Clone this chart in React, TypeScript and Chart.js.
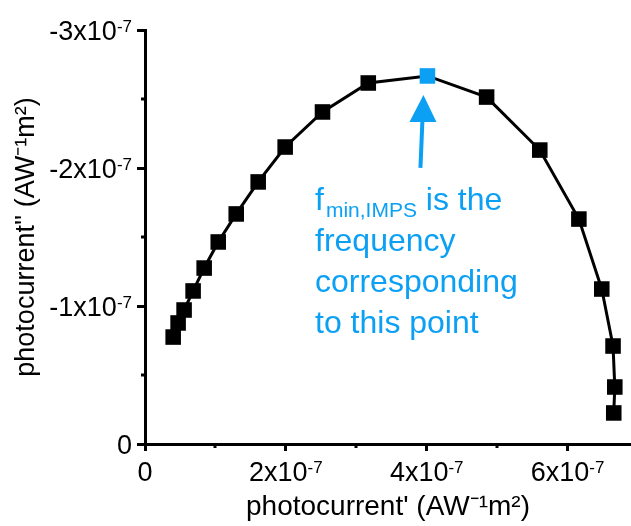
import React, { useEffect, useRef } from 'react';
import { Chart, registerables } from 'chart.js';

Chart.register(...registerables);

// ---- data ----
const X_VALUES = [
  0.40e-7, 0.47e-7, 0.555e-7, 0.683e-7, 0.84e-7, 1.04e-7, 1.295e-7, 1.607e-7, 1.99e-7, 2.52e-7,
  3.17e-7, 4.01e-7, 4.85e-7, 5.605e-7, 6.16e-7, 6.485e-7, 6.645e-7, 6.67e-7, 6.655e-7,
];
const Y_VALUES = [
  -0.775e-7, -0.877e-7, -0.971e-7, -1.109e-7, -1.275e-7, -1.464e-7, -1.667e-7, -1.899e-7, -2.152e-7, -2.406e-7,
  -2.616e-7, -2.667e-7, -2.514e-7, -2.13e-7, -1.63e-7, -1.123e-7, -0.71e-7, -0.413e-7, -0.225e-7,
];
const HIGHLIGHT_INDEX = 11;

const X_MIN = 0;
const X_MAX = 6.9e-7;
const Y_MIN = -3e-7;
const Y_MAX = 0;

const X_TICKS = [0, 2e-7, 4e-7, 6e-7];
const X_TICK_BASE = ['0', '2x10', '4x10', '6x10'];
const X_TICK_EXP = ['', '-7', '-7', '-7'];
const X_MINOR = [1e-7, 3e-7, 5e-7];

const Y_TICKS = [0, -1e-7, -2e-7, -3e-7];
const Y_TICK_BASE = ['0', '-1x10', '-2x10', '-3x10'];
const Y_TICK_EXP = ['', '-7', '-7', '-7'];
const Y_MINOR = [-0.5e-7, -1.5e-7, -2.5e-7];

const X_TITLE = "photocurrent' (AW\u207B\u00B9m\u00B2)";
const Y_TITLE = "photocurrent'' (AW\u207B\u00B9m\u00B2)";

const NOTE_MAIN = 'f';
const NOTE_SUB = 'min,IMPS';
const NOTE_REST = ' is the';
const NOTE_LINES = ['frequency', 'corresponding', 'to this point'];

const BLUE = '#0BA0F4';
const FONT = "'Liberation Sans', Arial, sans-serif";

const overlayPlugin = {
  id: 'overlay',
  afterDraw(chart: any) {
    const ctx = chart.ctx as CanvasRenderingContext2D;
    const xs = chart.scales.x;
    const ys = chart.scales.y;
    const area = chart.chartArea;
    ctx.save();
    ctx.fillStyle = '#000';
    ctx.strokeStyle = '#000';

    // minor ticks
    ctx.lineWidth = 3;
    ctx.beginPath();
    X_MINOR.forEach((v) => {
      const px = Math.round(xs.getPixelForValue(v));
      ctx.moveTo(px, area.bottom);
      ctx.lineTo(px, area.bottom + 4);
    });
    Y_MINOR.forEach((v) => {
      const py = Math.round(ys.getPixelForValue(v));
      ctx.moveTo(area.left, py);
      ctx.lineTo(area.left - 4, py);
    });
    ctx.stroke();

    const mainFont = `27px ${FONT}`;
    const supFont = `17px ${FONT}`;

    // x tick labels
    X_TICKS.forEach((v, i) => {
      const px = xs.getPixelForValue(v);
      ctx.font = mainFont;
      const wMain = ctx.measureText(X_TICK_BASE[i]).width;
      ctx.font = supFont;
      const wSup = X_TICK_EXP[i] ? ctx.measureText(X_TICK_EXP[i]).width : 0;
      const start = px - (wMain + wSup) / 2;
      ctx.textBaseline = 'alphabetic';
      ctx.textAlign = 'left';
      ctx.font = mainFont;
      ctx.fillText(X_TICK_BASE[i], start, area.bottom + 37);
      if (X_TICK_EXP[i]) {
        ctx.font = supFont;
        ctx.fillText(X_TICK_EXP[i], start + wMain, area.bottom + 29);
      }
    });

    // y tick labels
    Y_TICKS.forEach((v, i) => {
      const py = ys.getPixelForValue(v);
      ctx.font = mainFont;
      const wMain = ctx.measureText(Y_TICK_BASE[i]).width;
      ctx.font = supFont;
      const wSup = Y_TICK_EXP[i] ? ctx.measureText(Y_TICK_EXP[i]).width : 0;
      const right = area.left - 13;
      const start = right - wMain - wSup;
      ctx.textBaseline = 'alphabetic';
      ctx.textAlign = 'left';
      ctx.font = mainFont;
      ctx.fillText(Y_TICK_BASE[i], start, py + 10);
      if (Y_TICK_EXP[i]) {
        ctx.font = supFont;
        ctx.fillText(Y_TICK_EXP[i], start + wMain, py + 2);
      }
    });

    // annotation arrow pointing at highlighted point
    const meta = chart.getDatasetMeta(0);
    const pt = meta.data[HIGHLIGHT_INDEX];
    const bx = pt.x;
    const by = pt.y;
    ctx.strokeStyle = BLUE;
    ctx.fillStyle = BLUE;
    ctx.lineWidth = 4;
    ctx.beginPath();
    ctx.moveTo(bx - 7, by + 92);
    ctx.lineTo(bx - 5, by + 44);
    ctx.stroke();
    ctx.beginPath();
    ctx.moveTo(bx - 4, by + 19);
    ctx.lineTo(bx - 18, by + 46);
    ctx.lineTo(bx + 9, by + 46);
    ctx.closePath();
    ctx.fill();

    // annotation text
    const noteFont = `32px ${FONT}`;
    const subFont = `21px ${FONT}`;
    const tx = 315;
    ctx.textAlign = 'left';
    ctx.textBaseline = 'alphabetic';
    ctx.font = noteFont;
    ctx.fillText(NOTE_MAIN, tx, 210);
    let cx = tx + ctx.measureText(NOTE_MAIN).width + 2;
    ctx.font = subFont;
    ctx.fillText(NOTE_SUB, cx, 217);
    cx += ctx.measureText(NOTE_SUB).width;
    ctx.font = noteFont;
    ctx.fillText(NOTE_REST, cx, 210);
    NOTE_LINES.forEach((line, i) => {
      ctx.fillText(line, tx, 251 + i * 41);
    });

    ctx.restore();
  },
};

export default function App() {
  const canvasRef = useRef<HTMLCanvasElement | null>(null);

  useEffect(() => {
    const canvas = canvasRef.current;
    if (!canvas) return;
    Chart.defaults.font.family = FONT;
    const points = X_VALUES.map((x, i) => ({ x, y: Y_VALUES[i] }));
    const colors = X_VALUES.map((_, i) => (i === HIGHLIGHT_INDEX ? BLUE : '#000000'));
    const chart = new Chart(canvas, {
      type: 'scatter',
      data: {
        datasets: [
          {
            data: points,
            showLine: true,
            borderColor: '#000000',
            borderWidth: 3,
            pointStyle: 'rect',
            pointRadius: 11,
            pointBorderWidth: 0,
            pointBackgroundColor: colors,
            pointBorderColor: colors,
          },
        ],
      },
      options: {
        animation: false,
        responsive: false,
        layout: { autoPadding: false, padding: { top: 30, right: 0, left: 0, bottom: 0 } },
        plugins: {
          legend: { display: false },
          tooltip: { enabled: false },
        },
        scales: {
          x: {
            type: 'linear',
            min: X_MIN,
            max: X_MAX,
            afterBuildTicks: (scale: any) => {
              scale.ticks = X_TICKS.map((v) => ({ value: v }));
            },
            afterFit: (scale: any) => {
              scale.height = 82;
            },
            ticks: { display: false },
            grid: {
              display: true,
              drawOnChartArea: false,
              drawTicks: true,
              tickLength: 7,
              tickWidth: 3,
              tickColor: '#000',
            },
            border: { display: true, width: 3, color: '#000' },
            title: {
              display: true,
              text: X_TITLE,
              color: '#000',
              font: { family: FONT, size: 28, lineHeight: 1 },
              padding: { top: 0, bottom: 5 },
            },
          },
          y: {
            type: 'linear',
            min: Y_MIN,
            max: Y_MAX,
            reverse: true,
            afterBuildTicks: (scale: any) => {
              scale.ticks = Y_TICKS.map((v) => ({ value: v }));
            },
            afterFit: (scale: any) => {
              scale.width = 145;
            },
            ticks: { display: false },
            grid: {
              display: true,
              drawOnChartArea: false,
              drawTicks: true,
              tickLength: 8,
              tickWidth: 3,
              tickColor: '#000',
            },
            border: { display: true, width: 3, color: '#000' },
            title: {
              display: true,
              text: Y_TITLE,
              color: '#000',
              font: { family: FONT, size: 27, lineHeight: 1 },
              padding: { top: 13, bottom: 0 },
            },
          },
        },
      },
      plugins: [overlayPlugin],
    });
    return () => chart.destroy();
  }, []);

  return (
    <div style={{ position: 'absolute', left: 0, top: 0, width: 631, height: 526, background: '#fff' }}>
      <canvas ref={canvasRef} width={631} height={526} />
    </div>
  );
}
